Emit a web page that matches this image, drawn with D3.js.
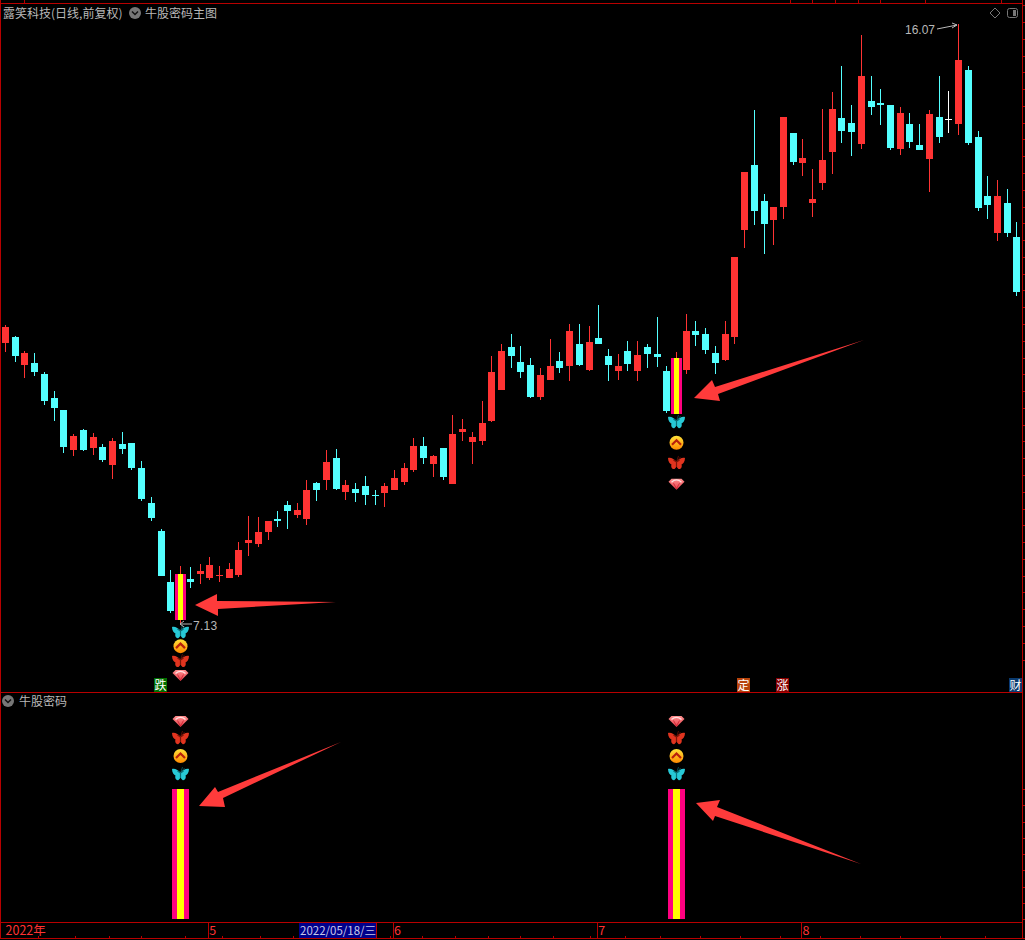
<!DOCTYPE html>
<html><head><meta charset="utf-8">
<script src="https://cdn.jsdelivr.net/npm/d3@7/dist/d3.min.js"></script>
<style>html,body{margin:0;padding:0;background:#000;overflow:hidden}svg{display:block}text{font-family:"Noto Sans CJK SC","Liberation Sans",sans-serif}</style>
</head><body><div id="c"></div>
<script>
const opens=[11.32,11.41,10.99,11.02,10.86,10.50,10.32,9.72,10.02,9.75,9.77,9.50,9.81,9.83,9.45,8.93,8.52,7.76,7.19,7.80,7.88,7.82,7.85,7.82,7.86,8.34,8.32,8.50,8.69,8.90,8.75,8.69,9.23,9.28,9.60,9.10,9.14,9.19,9.05,9.08,9.13,9.25,9.42,9.78,9.51,9.75,9.22,9.99,9.84,9.86,10.15,10.62,11.26,11.03,10.99,10.51,10.77,11.05,10.97,11.30,10.91,11.39,11.12,10.90,11.20,10.90,11.26,11.15,10.90,10.26,10.91,11.50,11.45,11.17,11.06,11.41,13.00,13.97,13.43,13.15,13.34,14.45,14.00,13.40,13.70,14.16,14.67,14.60,14.28,14.92,14.89,14.86,14.21,14.58,14.27,14.06,14.68,14.66,14.58,15.39,14.39,13.51,12.96,13.40,12.90];
const closes=[11.56,11.12,11.17,10.89,10.45,10.35,9.77,9.93,9.72,9.92,9.57,9.86,9.74,9.45,8.99,8.71,7.85,7.32,7.88,7.76,7.92,8.01,7.86,7.95,8.23,8.38,8.50,8.67,8.67,8.81,8.83,9.13,9.13,9.54,9.14,9.20,9.08,9.05,9.04,9.19,9.31,9.45,9.78,9.60,9.63,9.32,9.96,10.04,9.92,10.13,10.89,11.20,11.12,10.89,10.51,10.84,10.97,10.94,11.50,10.99,11.33,11.30,10.99,10.97,11.00,11.14,11.15,11.11,10.30,11.09,11.50,11.44,11.21,11.02,11.45,12.60,13.87,13.28,13.09,13.34,14.68,14.01,14.07,13.46,14.04,14.80,14.48,14.46,15.30,14.83,14.86,14.22,14.74,14.31,14.19,14.73,14.39,14.66,15.53,14.30,13.33,13.37,13.51,12.96,12.08];
const highs=[11.59,11.42,11.20,11.17,10.89,10.60,10.32,9.96,10.04,9.98,9.81,9.90,9.99,9.83,9.56,9.02,8.55,7.93,7.99,7.98,8.02,8.13,7.99,8.04,8.35,8.74,8.72,8.67,8.81,8.96,8.93,9.28,9.25,9.72,9.74,9.28,9.23,9.34,9.13,9.23,9.42,9.53,9.90,9.92,9.65,9.75,10.24,10.18,9.99,10.45,11.12,11.30,11.45,11.27,11.09,10.94,11.38,11.18,11.60,11.60,11.57,11.88,11.23,11.15,11.35,11.35,11.30,11.70,10.97,11.18,11.75,11.65,11.54,11.27,11.65,12.60,13.87,14.79,13.54,13.34,14.68,14.45,14.36,13.91,14.80,15.06,15.44,14.86,15.91,15.30,15.10,14.86,14.83,14.74,14.58,14.79,15.30,15.07,16.07,15.44,14.48,13.81,13.75,13.61,13.12];
const lows=[11.18,11.03,10.80,10.83,10.39,10.15,9.68,9.63,9.71,9.65,9.54,9.29,9.66,9.42,8.96,8.67,7.85,7.29,7.13,7.67,7.73,7.79,7.76,7.82,7.83,8.14,8.28,8.38,8.58,8.55,8.71,8.61,8.96,9.13,9.13,8.98,8.95,8.90,8.90,8.87,9.13,9.20,9.39,9.51,9.32,9.28,9.22,9.86,9.51,9.80,10.14,10.62,10.94,10.80,10.50,10.47,10.77,10.87,10.75,10.97,10.90,11.30,10.75,10.77,10.90,10.75,10.94,10.96,10.27,10.26,10.86,11.27,11.15,10.86,11.05,11.30,12.73,13.08,12.64,12.78,13.16,13.97,13.81,13.19,13.60,13.84,14.30,14.10,14.21,14.71,14.57,14.19,14.12,14.22,14.19,13.57,14.30,14.45,14.42,14.27,13.28,13.16,12.84,12.90,12.02];
const signalIndex=[18,69];
const upperIconPrices=[[7.01,6.80,6.58,6.37],[10.14,9.83,9.53,9.22]];
const iconOrder=["butterflyCyan","coin","butterflyRed","gem"];
const lowerIconLevels=[1.115,1.254,1.392,1.523];
const monthTickIndex=[0,21,40,61,82];
const monthTickLabels=["2022年","5","6","7","8"];
const eventFlags=[{i:16,t:"跌",c:"#006e00"},{i:76,t:"定",c:"#b8440c"},{i:80,t:"涨",c:"#870000"},{i:104,t:"财",c:"#0a3a6e"}];
const highLabel="16.07",lowLabel="7.13";
const cursorDate="2022/05/18/三",cursorIndex=30;
const titleMain="露笑科技(日线,前复权)",titleInd="牛股密码主图",titleSub="牛股密码";
const FRAME="#b80000",RED="#ff3333",CYAN="#54ffff";

const W=1025,H=940;
const svg=d3.select("#c").append("svg").attr("width",W).attr("height",H);
svg.append("rect").attr("width",W).attr("height",H).attr("fill","#000");
const defs=svg.append("defs");
const cg=defs.append("linearGradient").attr("id","coinG").attr("x1",0).attr("x2",0).attr("y1",0).attr("y2",1);
cg.append("stop").attr("offset","0").attr("stop-color","#ffe23a");
cg.append("stop").attr("offset","1").attr("stop-color","#ff8a00");
const gg=defs.append("linearGradient").attr("id","gemG").attr("x1",0).attr("x2",0).attr("y1",0).attr("y2",1);
gg.append("stop").attr("offset","0").attr("stop-color","#ff8f8f");
gg.append("stop").attr("offset","1").attr("stop-color","#e8404a");

const idx=d3.range(opens.length);
const x=d3.scaleLinear().domain([0,opens.length-1]).range([5,1016.4]);
const px=i=>Math.round(x(i));
const y=d3.scaleLinear().domain([7.13,16.07]).range([624,24]);
const py=v=>Math.round(y(v));
const ySig=d3.scaleLinear().domain([0,1]).range([919,789]);
const g=svg.append("g").attr("shape-rendering","crispEdges");
const colorOf=i=>closes[i]>opens[i]?RED:closes[i]<opens[i]?CYAN:"#ffffff";

// candles
g.append("g").selectAll("rect").data(idx).join("rect")
 .attr("x",i=>px(i)).attr("width",1)
 .attr("y",i=>py(highs[i])).attr("height",i=>py(lows[i])-py(highs[i])).attr("fill",colorOf);
g.append("g").selectAll("rect").data(idx).join("rect")
 .attr("x",i=>px(i)-3).attr("width",7)
 .attr("y",i=>py(Math.max(opens[i],closes[i])))
 .attr("height",i=>Math.max(1,py(Math.min(opens[i],closes[i]))-py(Math.max(opens[i],closes[i]))))
 .attr("fill",colorOf);

// signal bars
function stripes(sel,i,top,bottom,w1,w2){
  const c=px(i), l=c-Math.floor((2*w1+w2)/2);
  [[0,w1,"#ff0080"],[w1,w2,"#ffff00"],[w1+w2,w1,"#ff0080"]].forEach(s=>{
    sel.append("rect").attr("x",l+s[0]).attr("width",s[1]).attr("y",top).attr("height",bottom-top).attr("fill",s[2]);
  });
}
signalIndex.forEach(i=>{
  stripes(g,i,py(closes[i]),py(opens[i]),3,5);
  stripes(g,i,ySig(1),ySig(0),5,7);
});

// frame
const frame=svg.append("g").attr("shape-rendering","crispEdges").attr("fill",FRAME);
[[0,3,1022,1],[0,692,1022,1],[0,922,1022,1],[0,938,1025,1]].forEach(r=>frame.append("rect").attr("x",r[0]).attr("y",r[1]).attr("width",r[2]).attr("height",r[3]));
[[0,0,1,938],[1022,0,1,938]].forEach(r=>frame.append("rect").attr("x",r[0]).attr("y",r[1]).attr("width",r[2]).attr("height",r[3]));
[24,790,812,835,858,880,925,1001].forEach(v=>frame.append("rect").attr("x",v).attr("y",0).attr("width",1).attr("height",3));
d3.range(6.5,16.3,0.25).forEach(v=>frame.append("rect").attr("x",1022).attr("y",py(v+0.1)).attr("width",3).attr("height",1));
d3.range(0,1.01,0.125).forEach(v=>frame.append("rect").attr("x",1022).attr("y",Math.round(ySig(v))).attr("width",3).attr("height",1));
[38,75,109,141,185,222,260,293,330,358,390,422,455,488,520,553,590,625,660,700,740,780,820,860,900,940,985].forEach(v=>frame.append("rect").attr("x",v).attr("y",936).attr("width",1).attr("height",2));

// icons
function drawIcon(name,cx,cy){
  const s=svg.append("g").attr("transform",`translate(${cx+0.5},${cy})`);
  if(name.startsWith("butterfly")){
    const main=name==="butterflyCyan"?"#27c9d6":"#e0341f", dark=name==="butterflyCyan"?"#0c6f78":"#7a1608";
    s.append("path").attr("d","M0,-1 C-2,-4 -6,-6 -8.5,-5 C-8.5,-1.5 -6.5,1 -5,1.5 C-6,4 -4,7 -2,6 C-1,5 0,4 0,2.5 C0,4 1,5 2,6 C4,7 6,4 5,1.5 C6.5,1 8.5,-1.5 8.5,-5 C6,-6 2,-4 0,-1Z").attr("fill",main);
    s.append("path").attr("d","M0,-1 L-3,-3 M0,-1 L3,-3 M0,-1 V4").attr("stroke",dark).attr("stroke-width",1.2).attr("fill","none");
    s.append("path").attr("d","M0,-1 L2,-7 M0,-1 L4,-6").attr("stroke",dark).attr("stroke-width",0.7).attr("fill","none");
  } else if(name==="coin"){
    s.append("circle").attr("r",7).attr("fill","url(#coinG)");
    s.append("path").attr("d","M-4.5,2 L0,-2.5 L4.5,2").attr("stroke","#b8200c").attr("stroke-width",2.2).attr("fill","none");
  } else {
    s.append("path").attr("d","M-5,-5 H5 L8,-2 L0,6 L-8,-2Z").attr("fill","url(#gemG)");
    s.append("path").attr("d","M-5,-1.5 Q0,-6 5,-1.5").attr("stroke","#ffe0e0").attr("stroke-width",1.2).attr("fill","none");
    s.append("path").attr("d","M-3,-0.5 L0,5 L3,-0.5").attr("stroke","#c92030").attr("stroke-width",0.8).attr("fill","none");
  }
}
signalIndex.forEach((i,k)=>{
  iconOrder.forEach((n,j)=>drawIcon(n,px(i),y(upperIconPrices[k][j])));
  iconOrder.forEach((n,j)=>drawIcon(n,px(i),ySig(lowerIconLevels[j])));
});

// annotation arrows
const arrowShapes=[
 [[195,605],[217,594],[217,601],[336,602],[218,609],[218,616]],
 [[694,398],[712,380],[715,387],[864,340],[718,394],[720,401]],
 [[199,806],[215,787],[218,792],[341,742],[223,798],[225,807]],
 [[696,803],[720,800],[717,807],[861,864],[715,816],[713,821]]
];
svg.append("g").selectAll("polygon").data(arrowShapes).join("polygon")
 .attr("points",d=>d.map(p=>p.join(",")).join(" ")).attr("fill","#ff3b3b");

// high/low labels
const labelC="#b8b8b8";
svg.append("text").attr("x",905).attr("y",34).attr("fill",labelC).attr("font-size",12).style("font-family","'Liberation Sans'").style("letter-spacing","0").text(highLabel);
svg.append("path").attr("d",`M937,29 L${px(98)-1},${py(16.07)+1} M${px(98)-6},${py(16.07)-1} L${px(98)-1},${py(16.07)+1} L${px(98)-6},${py(16.07)+4}`).attr("stroke",labelC).attr("fill","none");
svg.append("text").attr("x",193).attr("y",630).attr("fill",labelC).attr("font-size",12).style("font-family","'Liberation Sans'").style("letter-spacing","0.3px").text(lowLabel);
svg.append("path").attr("d",`M192,624 H${px(18)} M${px(18)+4},621 L${px(18)},624 L${px(18)+4},627`).attr("stroke",labelC).attr("fill","none");

// titles
const chev=(cx,cy)=>{svg.append("circle").attr("cx",cx).attr("cy",cy).attr("r",6).attr("fill","#777");
 svg.append("path").attr("d",`M${cx-3},${cy-1.5} L${cx},${cy+1.5} L${cx+3},${cy-1.5}`).attr("stroke","#111").attr("stroke-width",1.5).attr("fill","none");};
const txt=(t,xx,yy,fs,fill)=>svg.append("text").attr("x",xx).attr("y",yy).attr("font-size",fs).attr("fill",fill).text(t);
txt(titleMain,3,18,12,labelC);
chev(135,13); txt(titleInd,145,18,12,labelC);
chev(8,701); txt(titleSub,19,706,12,labelC);
svg.append("path").attr("d","M995,8 L1000,13 L995,18 L990,13Z").attr("stroke","#777").attr("fill","none");
svg.append("rect").attr("x",1007.5).attr("y",8.5).attr("width",10).attr("height",9).attr("rx",2).attr("stroke","#777").attr("fill","none");
svg.append("rect").attr("x",1013).attr("y",10).attr("width",3).attr("height",6).attr("fill","#777");

// event flags
eventFlags.forEach(f=>{
  const l=px(f.i)-7, sel=svg.append("g");
  sel.append("rect").attr("x",l).attr("y",678).attr("width",13).attr("height",14).attr("fill",f.c).attr("shape-rendering","crispEdges");
  sel.append("text").attr("x",l+0.5).attr("y",689.5).attr("font-size",12).attr("fill","#fff").text(f.t);
});

// time axis
const axis=d3.axisBottom(x).tickValues(monthTickIndex).tickSize(0).tickFormat(i=>monthTickLabels[monthTickIndex.indexOf(i)]);
const ax=svg.append("g").attr("transform","translate(0,922)").call(axis);
ax.select(".domain").remove();
ax.selectAll("text").attr("fill",RED).attr("font-size",12.5).attr("text-anchor","start").attr("y",13).attr("dy",0).attr("x",0);
ax.selectAll(".tick").each(function(i){
  const t=d3.select(this);
  if(i!==0){ t.append("rect").attr("x",-2).attr("y",0).attr("width",1).attr("height",16).attr("fill",FRAME).attr("shape-rendering","crispEdges"); t.select("text").attr("x",-0.5);}
});
const bx=px(cursorIndex)+2;
svg.append("rect").attr("x",bx).attr("y",923).attr("width",77).attr("height",15).attr("fill","#00008b").attr("shape-rendering","crispEdges");
frame.append("rect").attr("x",bx+77).attr("y",922).attr("width",1).attr("height",16);
svg.append("text").attr("x",bx+1).attr("y",935).attr("font-size",11.5).attr("fill","#c8c8e8").text(cursorDate);
</script></body></html>
